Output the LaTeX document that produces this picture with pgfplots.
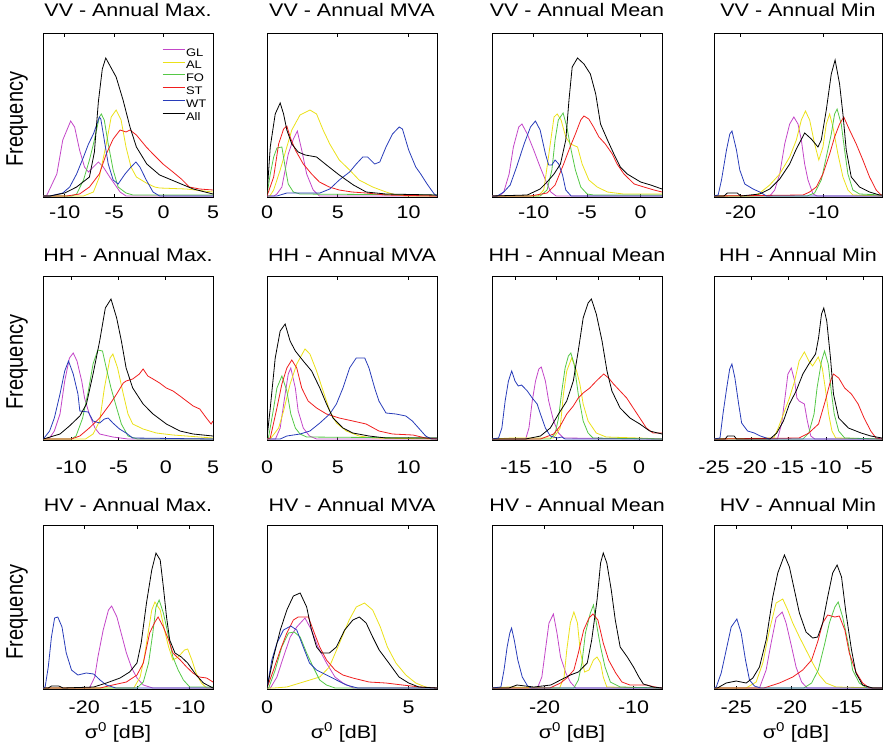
\documentclass[border=0pt]{standalone}
\usepackage{pgfplots}
\pgfplotsset{compat=1.18}
\usepackage{fontspec}
\setmainfont{Liberation Sans}[FakeStretch=1.18]
\newfontfamily\rotfont{Liberation Sans}

\definecolor{cGL}{RGB}{195,70,200}
\definecolor{cAL}{RGB}{235,225,25}
\definecolor{cFO}{RGB}{85,200,70}
\definecolor{cST}{RGB}{240,30,30}
\definecolor{cWT}{RGB}{40,60,185}

\newcommand\bigf{\fontsize{18.2}{20}\selectfont}

\pgfplotsset{
  panel/.style={
    scale only axis, width=170pt, height=164pt,
    ymin=0, ymax=164, ytick=\empty,
    axis line style={line width=1pt},
    major tick style={black, line width=0.8pt},
    major tick length=3.5pt, tick align=inside, xtick pos=both,
    every axis plot/.append style={line width=0.8pt},
    title style={font=\bigf, at={(0.5,1)}, anchor=base},
    xticklabel style={font=\bigf, anchor=base},
    anchor=north west,
  },
  row1/.style={title style={yshift=11pt}, xticklabel style={yshift=-21pt}},
  row2/.style={title style={yshift=9pt}, xticklabel style={yshift=-33pt}},
  row3/.style={title style={yshift=8pt}, xticklabel style={yshift=-24pt},
    xlabel={σ\textsuperscript{0} [dB]},
    xlabel style={font=\bigf, at={(axis description cs:0.5,0)}, anchor=base, yshift=-49pt}},
}

\begin{document}
\begin{tikzpicture}
\useasboundingbox (0,0) rectangle (883pt,-750pt);

% ---------------- row 1 : VV ----------------
\begin{axis}[panel, row1, at={(43pt,-33pt)}, xmin=-12.2, xmax=5,
  xtick={-10,-5,0,5}, xticklabels={-10,-5,0,5}, title={VV - Annual Max.},
  legend style={draw=none, fill=none, at={(0.70,0.915)}, anchor=north west,
    font=\fontsize{11}{12}\selectfont, row sep=2.8pt, inner sep=0pt,
    nodes={inner sep=1pt, text height=8pt, text depth=0pt}},
  legend cell align=left,
  legend image code/.code={\draw[#1, line width=0.8pt] (0pt,3pt) -- (22pt,3pt);}]
\addplot[cGL] coordinates {(-12.2,1) (-11.85,1) (-10.8,23) (-10.2,57) (-9.4,76) (-9,70) (-8.5,47) (-8,30) (-7.6,25) (-6.6,35) (-6.1,30) (-5.45,20) (-4.4,5) (-3.8,1) (5,1)};
\addplot[cAL] coordinates {(-12.2,1) (-8.1,1) (-7.1,5) (-6.5,20) (-5.8,53) (-5.3,80) (-4.8,87) (-4.3,77) (-3.8,50) (-3.3,30) (-2.75,20) (-1.75,14) (-0.9,10) (-0.4,9) (2.3,8) (5,5)};
\addplot[cFO] coordinates {(-12.2,1) (-9.3,1) (-8.8,3) (-8.1,17) (-7.5,37) (-7,57) (-6.5,80) (-6.3,83) (-6,77) (-5.6,53) (-5.1,27) (-4.6,10) (-3.8,4) (-3.1,2) (5,2)};
\addplot[cST] coordinates {(-12.2,1) (-9.8,1) (-8.5,3) (-7.5,10) (-6.5,23) (-5.8,43) (-5.1,58) (-4.4,67) (-3.8,65) (-3.4,67) (-2.75,62) (-1.75,50) (-1.07,43) (-0.06,33) (0.95,25) (1.8,18) (2.6,10) (3.65,8) (5,7)};
\addplot[cWT] coordinates {(-12.2,1) (-11.5,1) (-10.2,4) (-9.5,10) (-8.8,23) (-8.1,40) (-7.6,53) (-7.1,63) (-6.5,80) (-6.35,78) (-6,57) (-5.6,33) (-5.1,17) (-4.6,13) (-3.9,23) (-3.3,30) (-2.8,35) (-2.4,30) (-1.75,17) (-1.07,5) (-0.4,1) (5,1)};
\addplot[black] coordinates {(-12.2,1) (-11.5,1) (-10,4) (-8.8,10) (-7.5,20) (-7,45) (-6.6,95) (-6.2,128) (-5.85,139) (-4.8,120) (-4.1,97) (-3.4,70) (-2.75,50) (-1.7,33) (-0.4,22) (1.3,15) (3,8) (5,3)};
\legend{GL,AL,FO,ST,WT,All}
\end{axis}

\begin{axis}[panel, row1, at={(267pt,-33pt)}, xmin=0, xmax=12,
  xtick={0,5,10}, xticklabels={0,5,10}, title={VV - Annual MVA}]
\addplot[cGL] coordinates {(0,1) (0.5,1) (0.7,3) (1.05,10) (1.5,43) (1.86,58) (2.14,66) (2.45,47) (2.8,23) (3.26,7) (3.7,1) (12,1)};
\addplot[cAL] coordinates {(0,1) (0.2,1) (0.47,7) (0.93,27) (1.4,50) (1.75,67) (2.33,82) (3.03,87) (3.5,83) (3.96,67) (4.43,53) (5.1,37) (5.83,27) (6.5,17) (7.46,10) (8.4,5) (8.86,3) (9.8,1) (12,1)};
\addplot[cFO] coordinates {(0,2) (0.23,23) (0.47,40) (0.7,49) (1.05,50) (1.28,30) (1.5,13) (1.86,5) (2.33,3) (12,2)};
\addplot[cST] coordinates {(0,1) (0.47,20) (0.82,53) (1.17,68) (1.4,71) (1.63,60) (2,47) (2.56,33) (3.15,23) (3.7,15) (4.4,10) (5.1,7) (6,5) (7,4) (8.4,2) (12,1)};
\addplot[cWT] coordinates {(0,1) (0.7,1) (1.4,4) (3.73,4) (4.43,8) (5.1,17) (5.83,25) (6.3,33) (6.76,40) (7.1,40) (7.6,33) (7.96,35) (8.4,50) (8.86,63) (9.33,70) (9.56,68) (10,47) (10.5,30) (10.85,23) (11.3,13) (11.8,3) (12,1)};
\addplot[black] coordinates {(0,2) (0.23,50) (0.58,83) (0.93,94) (1.17,83) (1.4,67) (1.75,53) (2.2,45) (2.7,42) (3.5,40) (4.2,32) (5.1,22) (6.1,12) (7,5) (8.4,3) (12,2)};
\end{axis}

\begin{axis}[panel, row1, at={(492pt,-33pt)}, xmin=-13.9, xmax=2,
  xtick={-10,-5,0}, xticklabels={-10,-5,0}, title={VV - Annual Mean}]
\addplot[cGL] coordinates {(-13.9,1) (-13.2,1) (-12.8,5) (-12.3,23) (-11.9,50) (-11.4,70) (-11.1,73) (-10.6,63) (-10,47) (-9.4,30) (-8.9,17) (-8.4,5) (-7.9,1) (2,1)};
\addplot[cAL] coordinates {(-13.9,1) (-9.6,1) (-9.06,7) (-8.75,30) (-8.4,57) (-8.1,80) (-7.8,83) (-7.44,77) (-7,60) (-6.56,53) (-5.9,50) (-5.47,33) (-4.84,17) (-4.06,10) (-3.1,5) (-1.6,3) (2,3)};
\addplot[cFO] coordinates {(-13.9,1) (-9.4,1) (-8.75,7) (-8.3,27) (-8,57) (-7.7,77) (-7.25,84) (-6.9,70) (-6.5,47) (-6.1,27) (-5.6,10) (-5,3) (-4.4,2) (2,2)};
\addplot[cST] coordinates {(-13.9,1) (-10.3,1) (-8.75,4) (-8,12) (-7.2,33) (-6.6,50) (-6.1,63) (-5.6,77) (-5.3,81) (-4.85,78) (-4.4,70) (-3.9,60) (-3.3,53) (-2.65,43) (-2.2,33) (-1.56,23) (-0.6,13) (0.3,10) (1.25,7) (2,5)};
\addplot[cWT] coordinates {(-13.9,1) (-13.4,1) (-12.8,5) (-12.2,12) (-11.6,30) (-10.9,53) (-10.3,70) (-9.84,76) (-9.4,67) (-8.9,43) (-8.6,32) (-8.3,32) (-8,37) (-7.66,33) (-7.3,22) (-7,7) (-6.5,1) (2,1)};
\addplot[black] coordinates {(-13.9,1) (-10.6,2) (-10,5) (-9.4,8) (-8.75,15) (-8.1,23) (-7.5,33) (-7,57) (-6.7,97) (-6.4,130) (-5.9,139) (-5.3,133) (-4.7,123) (-4.2,103) (-3.75,73) (-3.1,57) (-2.5,43) (-1.9,30) (-1.25,23) (0,15) (0.94,12) (2,8)};
\end{axis}

\begin{axis}[panel, row1, at={(714pt,-33pt)}, width=168pt, xmin=-23.2, xmax=-3,
  xtick={-20,-10}, xticklabels={-20,-10}, title={VV - Annual Min}]
\addplot[cGL] coordinates {(-23.2,1) (-16.5,1) (-15.9,7) (-15.3,23) (-14.7,53) (-14.1,73) (-13.6,80) (-13.1,73) (-12.7,57) (-12.3,33) (-11.9,17) (-11.3,3) (-10.8,1) (-3,1)};
\addplot[cAL] coordinates {(-23.2,1) (-18.5,1) (-17.7,4) (-16.5,12) (-15.3,23) (-14.1,40) (-13.3,57) (-12.7,77) (-12.2,86) (-11.7,77) (-11.1,53) (-10.6,37) (-10.1,50) (-9.7,73) (-9.3,83) (-8.9,70) (-8.3,43) (-7.7,20) (-7.1,7) (-6.5,2) (-3,1)};
\addplot[cFO] coordinates {(-23.2,1) (-12,1) (-11.1,4) (-10.3,17) (-9.7,40) (-9.1,63) (-8.7,83) (-8.4,88) (-7.9,73) (-7.5,47) (-7.1,23) (-6.5,7) (-5.7,3) (-3,2)};
\addplot[cST] coordinates {(-23.2,1) (-12.5,2) (-11.7,5) (-10.9,10) (-10.1,23) (-9.3,43) (-8.7,60) (-8.1,73) (-7.6,80) (-6.9,67) (-6.1,53) (-5.3,37) (-4.5,20) (-3.7,7) (-3.1,2) (-3,2)};
\addplot[cWT] coordinates {(-23.2,1) (-22.7,2) (-22.3,17) (-21.7,47) (-21.3,63) (-21.04,66) (-20.5,47) (-20.1,27) (-19.5,13) (-18.5,8) (-17.7,5) (-16.9,1) (-3,1)};
\addplot[black] coordinates {(-23.2,1) (-22,1) (-21.6,4) (-20.4,4) (-20,1) (-17.7,3) (-16.5,8) (-15.3,18) (-14.1,33) (-13.3,48) (-12.3,64) (-11.5,58) (-10.7,50) (-10.3,57) (-9.7,87) (-9.1,123) (-8.64,137) (-8.1,113) (-7.7,83) (-7.3,47) (-6.7,20) (-5.7,10) (-4.5,5) (-3.3,2) (-3,2)};
\end{axis}

% ---------------- row 2 : HH ----------------
\begin{axis}[panel, row2, at={(43pt,-276pt)}, xmin=-13, xmax=5,
  xtick={-10,-5,0,5}, xticklabels={-10,-5,0,5}, title={HH - Annual Max.}]
\addplot[cGL] coordinates {(-13,1) (-12.3,2) (-11.8,9) (-11.2,26) (-10.7,59) (-10.2,82) (-9.8,87) (-9.4,79) (-8.9,59) (-8.6,42) (-8.1,26) (-7.5,12) (-7,6) (-5.6,3) (-4,1) (5,1)};
\addplot[cAL] coordinates {(-13,1) (-8.5,1) (-7.7,6) (-7,19) (-6.5,52) (-5.9,82) (-5.6,86) (-5.1,72) (-4.5,46) (-4,26) (-3.5,16) (-2.4,11) (-1,7) (0.77,5) (5,2)};
\addplot[cFO] coordinates {(-13,1) (-10,1) (-9.5,4) (-8.8,22) (-8.2,49) (-7.7,76) (-7.2,90) (-6.7,89) (-6.3,72) (-5.8,52) (-5.2,32) (-4.7,16) (-4,4) (-3,1) (5,1)};
\addplot[cST] coordinates {(-13,1) (-10,1) (-9.1,4) (-8.1,12) (-7,22) (-5.9,36) (-5.2,46) (-4.5,57) (-4.2,59) (-3.5,61) (-2.8,66) (-2.4,71) (-1.9,64) (-1.35,61) (-0.65,57) (0.06,52) (0.77,49) (1.5,44) (2.2,39) (2.9,34) (3.6,31) (4.3,22) (4.8,16) (5,19)};
\addplot[cWT] coordinates {(-13,1) (-12.8,3) (-12.3,9) (-11.8,22) (-11.2,46) (-10.7,69) (-10.3,79) (-9.8,66) (-9.3,46) (-9.1,29) (-8.2,28) (-7.7,19) (-7,17) (-6.5,21) (-6.1,22) (-5.6,17) (-4.9,11) (-4.2,7) (-3.5,2) (5,1)};
\addplot[black] coordinates {(-13,1) (-12.6,2) (-11.2,6) (-10.2,14) (-9.1,24) (-8.4,36) (-7.7,66) (-7,99) (-6.4,132) (-5.8,141) (-5.2,122) (-4.7,99) (-4.2,72) (-3.5,52) (-2.4,36) (-1.35,26) (0.06,16) (1.5,9) (2.9,6) (5,4)};
\end{axis}

\begin{axis}[panel, row2, at={(267pt,-276pt)}, xmin=0, xmax=12,
  xtick={0,5,10}, xticklabels={0,5,10}, title={HH - Annual MVA}]
\addplot[cGL] coordinates {(0,1) (0.6,1) (0.93,12) (1.28,46) (1.5,66) (1.68,72) (2,52) (2.2,29) (2.56,12) (3,4) (3.5,1) (12,1)};
\addplot[cAL] coordinates {(0,1) (0.23,1) (0.82,12) (1.17,29) (1.63,56) (2.1,76) (2.68,91) (3.03,86) (3.5,69) (3.96,49) (4.43,29) (4.9,17) (5.6,9) (6.5,4) (7.5,2) (12,1)};
\addplot[cFO] coordinates {(0,1) (0.1,2) (0.47,32) (0.7,52) (1.05,64) (1.4,49) (1.68,26) (2,12) (2.33,6) (2.8,3) (12,2)};
\addplot[cST] coordinates {(0,1) (0.23,2) (0.7,32) (1.05,56) (1.4,72) (1.75,80) (2.1,72) (2.45,52) (2.9,39) (3.5,32) (4.2,26) (5.1,22) (6.06,19) (7,16) (7.9,9) (8.86,6) (10.3,5) (11.2,2) (12,1)};
\addplot[cWT] coordinates {(0,1) (0.93,1) (1.4,4) (2.33,6) (3.03,9) (3.73,17) (4.43,26) (4.9,36) (5.36,52) (5.83,72) (6.3,82) (6.9,82) (7.2,72) (7.6,52) (7.9,39) (8.4,27) (9.1,26) (9.8,24) (10.26,19) (10.7,12) (11.2,4) (11.6,1) (12,1)};
\addplot[black] coordinates {(0,2) (0.23,32) (0.58,82) (0.93,109) (1.28,116) (1.63,99) (2,89) (2.56,79) (3.15,69) (3.73,52) (4.2,36) (4.66,22) (5.36,12) (6.06,7) (7.2,4) (8.4,2) (12,2)};
\end{axis}

\begin{axis}[panel, row2, at={(492pt,-276pt)}, xmin=-17.9, xmax=2.8,
  xtick={-15,-10,-5,0}, xticklabels={-15,-10,-5,0}, title={HH - Annual Mean}]
\addplot[cGL] coordinates {(-17.9,1) (-13.8,1) (-13.4,12) (-13,39) (-12.6,59) (-12.2,71) (-11.9,73) (-11.4,59) (-11,39) (-10.4,19) (-9.8,7) (-9.2,2) (2.8,1)};
\addplot[cAL] coordinates {(-17.9,1) (-15.5,2) (-10.4,2) (-9.6,12) (-9.2,46) (-8.8,69) (-8.2,82) (-7.6,69) (-7.2,56) (-6.8,36) (-6.2,19) (-5.2,7) (-4,3) (0,2) (2.8,1)};
\addplot[cFO] coordinates {(-17.9,1) (-10.8,1) (-10.2,7) (-9.8,22) (-9.4,49) (-9,72) (-8.6,84) (-8.3,87) (-7.9,76) (-7.4,46) (-6.8,19) (-6.2,7) (-5.6,2) (2.8,1)};
\addplot[cST] coordinates {(-17.9,1) (-12,1) (-10.4,6) (-9.6,14) (-8.8,26) (-8,34) (-7.4,42) (-6.8,47) (-6,52) (-5.2,59) (-4.3,66) (-3.7,62) (-3.1,56) (-2.3,49) (-1.5,42) (-0.7,32) (0.1,22) (0.9,12) (1.7,7) (2.8,7)};
\addplot[cWT] coordinates {(-17.9,1) (-17.1,2) (-16.7,12) (-16.3,39) (-15.9,59) (-15.5,69) (-15.1,59) (-14.7,54) (-14.3,55) (-13.6,49) (-13,42) (-12.4,36) (-12,26) (-11.4,12) (-10.8,4) (-10,2) (-9.4,3) (-9,1) (2.8,1)};
\addplot[black] coordinates {(-17.9,1) (-13.8,1) (-12,4) (-10.8,12) (-9.8,26) (-8.8,39) (-8,59) (-7.4,89) (-6.8,122) (-6.2,137) (-5.8,141) (-5.2,126) (-4.5,99) (-3.9,69) (-3.3,49) (-2.3,32) (-1.1,22) (0.1,16) (1.3,9) (2.8,6)};
\end{axis}

\begin{axis}[panel, row2, at={(714pt,-276pt)}, width=168pt, xmin=-25, xmax=-2.5,
  xtick={-25,-20,-15,-10,-5}, xticklabels={-25,-20,-15,-10,-5}, title={HH - Annual Min}]
\addplot[cGL] coordinates {(-25,1) (-16.5,1) (-15.95,16) (-15.5,42) (-15.1,66) (-14.65,72) (-14.2,59) (-13.9,42) (-13.6,39) (-12.9,36) (-12.5,19) (-12.04,4) (-11.5,1) (-2.5,1)};
\addplot[cAL] coordinates {(-25,1) (-17,2) (-16.4,12) (-15.7,26) (-14.9,42) (-14.2,59) (-13.6,79) (-12.9,88) (-12.3,79) (-11.8,74) (-11.04,83) (-10.5,72) (-10.1,52) (-9.65,26) (-9.2,9) (-8.7,2) (-2.5,1)};
\addplot[cFO] coordinates {(-25,1) (-13.1,1) (-12.3,7) (-11.6,26) (-11.2,52) (-10.6,79) (-10.2,89) (-9.7,76) (-9.3,49) (-8.9,26) (-8.3,9) (-7.5,2) (-2.5,1)};
\addplot[cST] coordinates {(-25,1) (-13.6,2) (-12.3,7) (-11,16) (-10.1,39) (-9.4,59) (-9,66) (-8.3,62) (-7.5,52) (-6.6,46) (-5.7,36) (-4.9,22) (-4,9) (-3.3,2) (-2.5,1)};
\addplot[cWT] coordinates {(-25,1) (-24.2,2) (-23.8,26) (-23.3,52) (-22.9,71) (-22.6,76) (-22.2,62) (-21.7,36) (-21.3,17) (-20.5,9) (-19.6,7) (-18.8,4) (-17.6,1) (-2.5,1)};
\addplot[black] coordinates {(-25,1) (-23.5,1) (-23.2,4) (-22.3,4) (-22,1) (-17.5,1) (-16.6,7) (-15.7,19) (-14.9,36) (-14,49) (-13.1,66) (-12.3,76) (-11.4,86) (-11,102) (-10.6,126) (-10.3,132) (-9.9,119) (-9.4,82) (-9,46) (-8.3,22) (-7,12) (-5.3,7) (-4,4) (-2.5,2)};
\end{axis}

% ---------------- row 3 : HV ----------------
\begin{axis}[panel, row3, at={(43pt,-525pt)}, xmin=-23.9, xmax=-7.8,
  xtick={-20,-15,-10}, xticklabels={-20,-15,-10}, title={HV - Annual Max.},
  xlabel style={xshift=-10pt}]
\addplot[cGL] coordinates {(-23.9,1) (-19.5,1) (-19,12) (-18.7,32) (-18.2,59) (-17.7,79) (-17.4,83) (-16.9,72) (-16.5,56) (-16,36) (-15.5,21) (-15,11) (-14.4,4) (-13.5,1) (-7.8,1)};
\addplot[cAL] coordinates {(-23.9,1) (-15.3,1) (-14.7,12) (-14.3,32) (-13.9,59) (-13.6,79) (-13.3,87) (-12.8,79) (-12.4,59) (-12,42) (-11.6,29) (-11.1,32) (-10.5,39) (-10.2,40) (-9.8,29) (-9.4,16) (-8.9,6) (-8.4,1) (-7.8,1)};
\addplot[cFO] coordinates {(-23.9,1) (-15,1) (-14.4,7) (-13.9,26) (-13.5,56) (-13.2,82) (-12.9,89) (-12.5,76) (-12,52) (-11.6,32) (-11.1,19) (-10.6,9) (-10,2) (-7.8,2)};
\addplot[cST] coordinates {(-23.9,1) (-18.5,1) (-17.3,4) (-16,7) (-15,14) (-14.4,26) (-13.8,56) (-13.3,67) (-13,72) (-12.5,62) (-12,49) (-11.6,36) (-10.9,29) (-10.3,22) (-9.7,16) (-9.1,12) (-8.4,11) (-7.8,7)};
\addplot[cWT] coordinates {(-23.9,1) (-23.7,2) (-23.4,22) (-23.1,52) (-22.8,71) (-22.5,72) (-22.1,62) (-21.7,36) (-21.2,19) (-20.6,14) (-19.8,16) (-19.1,15) (-18.5,9) (-17.9,4) (-17,1) (-7.8,1)};
\addplot[black] coordinates {(-23.9,1) (-23.4,1) (-23.1,3) (-22.4,3) (-22,1) (-19.1,2) (-17.9,6) (-16.6,11) (-15.7,17) (-15,26) (-14.6,46) (-14.1,86) (-13.6,119) (-13.2,136) (-12.8,129) (-12.5,102) (-12.2,72) (-11.9,49) (-11.4,36) (-10.8,32) (-10.2,26) (-9.4,14) (-8.7,6) (-7.8,1)};
\end{axis}

\begin{axis}[panel, row3, at={(267pt,-525pt)}, xmin=0, xmax=6,
  xtick={0,5}, xticklabels={0,5}, title={HV - Annual MVA},
  xlabel style={xshift=-8pt}]
\addplot[cGL] coordinates {(0,1) (0.12,1) (0.35,12) (0.58,32) (0.82,52) (1.05,62) (1.34,71) (1.57,59) (1.8,42) (2.1,26) (2.4,12) (2.68,6) (3.05,1) (6,1)};
\addplot[cAL] coordinates {(0,1) (0.23,1) (0.7,2) (1.28,7) (1.86,12) (2.2,22) (2.56,46) (2.9,69) (3.15,82) (3.44,86) (3.73,79) (4,62) (4.25,42) (4.55,26) (4.9,14) (5.25,6) (5.6,2) (6,1)};
\addplot[cFO] coordinates {(0,1) (0.06,1) (0.29,19) (0.52,42) (0.76,56) (0.96,57) (1.17,52) (1.4,36) (1.63,22) (1.86,9) (2.1,4) (2.4,1) (6,1)};
\addplot[cST] coordinates {(0,1) (0.23,19) (0.47,39) (0.7,56) (0.93,69) (1.1,72) (1.46,72) (1.63,59) (1.86,42) (2.1,29) (2.4,19) (2.68,14) (3.03,11) (3.6,7) (4.2,6) (4.78,4) (5.4,2) (6,1)};
\addplot[cWT] coordinates {(0,1) (0.17,29) (0.35,46) (0.58,59) (0.84,63) (1.05,59) (1.28,42) (1.5,26) (1.75,19) (2.1,14) (2.45,9) (2.8,4) (3.2,1) (6,1)};
\addplot[black] coordinates {(0,1) (0.23,32) (0.47,59) (0.7,79) (0.93,93) (1.17,96) (1.4,82) (1.57,59) (1.75,42) (1.92,36) (2.2,36) (2.45,42) (2.74,59) (3.03,69) (3.26,72) (3.5,66) (3.73,52) (3.96,39) (4.3,26) (4.66,12) (5,6) (5.36,2) (6,1)};
\end{axis}

\begin{axis}[panel, row3, at={(492pt,-525pt)}, xmin=-25.9, xmax=-6.8,
  xtick={-20,-10}, xticklabels={-20,-10}, title={HV - Annual Mean},
  xlabel style={xshift=-5pt}]
\addplot[cGL] coordinates {(-25.9,1) (-20.8,1) (-20.3,12) (-19.9,39) (-19.5,66) (-19,75) (-18.6,56) (-18.2,32) (-17.6,16) (-17.1,7) (-16.5,1) (-6.8,1)};
\addplot[cAL] coordinates {(-25.9,1) (-24,2) (-18.3,1) (-17.8,12) (-17.5,39) (-17.1,66) (-16.7,77) (-16.3,66) (-16,39) (-15.5,17) (-15,19) (-14.5,29) (-14.1,32) (-13.7,26) (-13.4,12) (-13,2) (-6.8,1)};
\addplot[cFO] coordinates {(-25.9,1) (-16.7,1) (-16.2,9) (-15.8,26) (-15.4,56) (-14.85,76) (-14.5,84) (-14.1,62) (-13.7,42) (-13.2,22) (-12.6,7) (-11.5,2) (-6.8,1)};
\addplot[cST] coordinates {(-25.9,1) (-19.4,1) (-18.2,6) (-17.5,11) (-16.7,19) (-16.2,36) (-15.6,59) (-15,71) (-14.55,75) (-14,69) (-13.4,46) (-12.8,29) (-12,16) (-11.3,7) (-10.4,4) (-8.5,4) (-7.6,2) (-6.8,1)};
\addplot[cWT] coordinates {(-25.9,1) (-24.9,2) (-24.55,19) (-24.2,42) (-23.9,56) (-23.7,61) (-23.4,49) (-23,29) (-22.5,12) (-21.9,3) (-21.5,1) (-6.8,1)};
\addplot[black] coordinates {(-25.9,1) (-24,1) (-23.1,4) (-21.2,2) (-19.3,4) (-18.2,9) (-17.1,14) (-16.2,17) (-15.2,26) (-14.7,49) (-14.1,89) (-13.7,126) (-13.4,136) (-13,126) (-12.5,99) (-12.05,69) (-11.5,42) (-10.7,32) (-10,22) (-9.4,12) (-8.9,5) (-7.8,2) (-6.8,1)};
\end{axis}

\begin{axis}[panel, row3, at={(714pt,-525pt)}, width=168pt, xmin=-27, xmax=-11.85,
  xtick={-25,-20,-15}, xticklabels={-25,-20,-15}, title={HV - Annual Min},
  xlabel style={xshift=-2pt}]
\addplot[cGL] coordinates {(-27,1) (-22.9,1) (-22.3,19) (-21.85,46) (-21.4,71) (-20.85,77) (-20.5,66) (-20,42) (-19.6,22) (-19.1,7) (-18.6,1) (-11.85,1)};
\addplot[cAL] coordinates {(-27,1) (-24.1,1) (-23.2,7) (-22.6,26) (-22,59) (-21.4,86) (-20.8,90) (-20.35,79) (-19.9,66) (-19.3,52) (-18.7,39) (-18.1,26) (-17.5,14) (-16.9,6) (-16,2) (-11.85,1)};
\addplot[cFO] coordinates {(-27,1) (-18.9,1) (-18.2,6) (-17.6,19) (-17,46) (-16.6,66) (-16.1,82) (-15.8,87) (-15.4,72) (-14.9,46) (-14.5,19) (-13.9,6) (-13.2,1) (-11.85,1)};
\addplot[cST] coordinates {(-27,1) (-22.5,1) (-21.1,6) (-19.9,12) (-19,19) (-18.2,29) (-17.6,49) (-17.2,66) (-16.75,74) (-16.1,72) (-15.7,73) (-15.2,59) (-14.8,36) (-14.2,17) (-13.6,6) (-13,1) (-11.85,1)};
\addplot[cWT] coordinates {(-27,1) (-26.8,2) (-26.35,16) (-25.9,39) (-25.45,62) (-24.94,70) (-24.55,56) (-24.16,29) (-23.8,9) (-23.35,3) (-22.8,1) (-11.85,1)};
\addplot[black] coordinates {(-27,1) (-26.7,1) (-25.9,6) (-25,8) (-24.1,6) (-23.5,11) (-22.9,22) (-22.3,49) (-21.7,92) (-21.25,116) (-20.65,134) (-20.2,122) (-19.75,99) (-19.3,76) (-18.7,57) (-18.1,51) (-17.65,52) (-17.2,66) (-16.75,92) (-16.3,116) (-15.9,124) (-15.5,112) (-15.1,76) (-14.6,39) (-14.2,16) (-13.6,4) (-12.7,1) (-11.85,1)};
\end{axis}

% y labels
\foreach \yy in {-119pt,-362pt,-612pt}
  \node[rotate=90, font=\rotfont\fontsize{20}{22}\selectfont] at (17pt,\yy) {\scalebox{1}[1.2]{Frequency}};
\end{tikzpicture}
\end{document}
